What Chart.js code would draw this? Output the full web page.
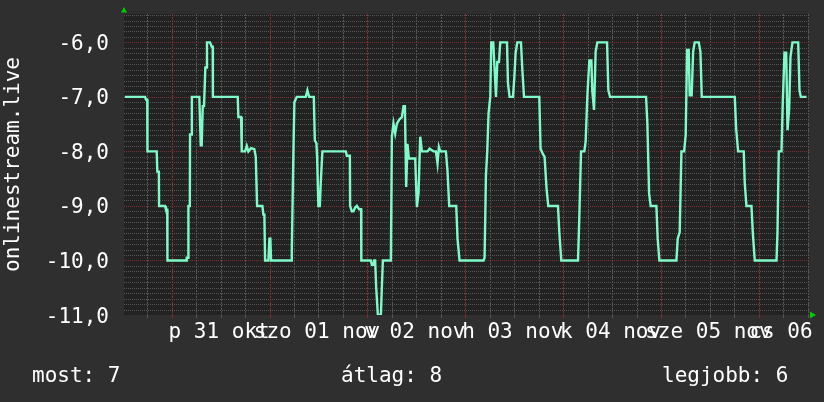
<!DOCTYPE html>
<html>
<head>
<meta charset="utf-8">
<script src="https://cdn.jsdelivr.net/npm/chart.js@4/dist/chart.umd.min.js"></script>
<style>
  html, body { margin: 0; padding: 0; background: #2f2f2f; }
  canvas { display: block; }
</style>
</head>
<body>
<canvas id="rrd" width="824" height="402"></canvas>
<script>
// hours since 31 okt 00:00
const hours = [
  -11.5, -6.55, -6.31, -6.0, -5.95, -3.68, -3.53, -3.15, -3.1, -1.64, -1.4, -1.1, -1.05,
  3.51, 3.68, 4.05, 4.1, 4.45, 4.5, 4.9, 4.95, 6.77, 7.12, 7.36, 7.61, 7.93, 8.25, 8.59, 8.65,
  9.4, 9.82, 10.06, 10.1, 16.2, 16.35, 17.01, 17.18, 17.99, 18.41, 18.8, 19.46, 20.27, 20.62,
  20.94, 22.24, 22.48, 22.73, 22.9, 23.71, 23.96, 24.2, 24.37, 29.28, 29.45, 29.85, 30.09,
  30.68, 32.89, 33.28, 33.7, 34.85, 35.1, 35.49, 35.66, 35.98, 36.33, 36.57, 36.96, 42.71,
  42.95, 43.7, 43.76, 44.18, 44.57, 44.99, 45.41, 45.97, 46.45, 46.5, 48.84, 49.09, 49.48,
  49.65, 49.9, 50.14, 50.56, 51.3, 51.54, 51.79, 53.75, 54.0, 54.39, 54.81, 55.23, 55.86,
  56.45, 56.85, 57.19, 57.51, 57.83, 58.17, 59.72, 60.13, 60.53, 60.95, 61.36, 62.74, 63.23,
  63.82, 64.21, 64.8, 65.19, 65.53, 65.86, 67.25, 67.65, 68.06, 69.78, 70.1, 70.59, 76.49,
  76.73, 77.07, 77.39, 77.71, 78.13, 78.37, 78.86, 79.18, 79.53, 79.85, 80.26, 80.58, 82.23,
  82.47, 82.86, 83.7, 84.02, 84.34, 84.75, 85.66, 85.98, 86.4, 90.15, 90.47, 91.06, 91.45,
  91.95, 92.36, 94.74, 95.06, 95.55, 99.65, 99.97, 100.39, 101.2, 101.52, 101.94, 102.43,
  102.92, 103.16, 103.58, 103.97, 104.39, 106.77, 107.09, 107.51, 116.34, 116.66, 117.08,
  117.47, 118.87, 119.19, 119.61, 123.78, 124.1, 124.59, 125.01, 125.67, 126.06, 126.4,
  126.8, 127.04, 127.53, 127.88, 128.27, 129.26, 129.67, 130.0, 138.09, 138.43, 138.92,
  140.3, 140.54, 140.96, 142.19, 142.51, 143.0, 148.33, 148.57, 148.89, 149.55, 149.87,
  150.29, 150.71, 151.03, 151.44, 151.76, 152.25, 153.65, 153.97, 154.29, 155.69
];
const values = [
  -7, -7, -7.05, -7.05, -8, -8, -8.37, -8.37, -9, -9, -9.07, -9.07, -10,
  -10, -9.95, -9.95, -9, -9, -7.69, -7.69, -7, -7, -7.89, -7.89, -7.17, -7.17, -6.46, -6.46, -6,
  -6, -6.08, -6.08, -7, -7, -7.37, -7.37, -8, -8, -7.9, -8, -7.94, -7.96, -8.1,
  -9, -9, -9.16, -9.16, -10, -10, -9.6, -9.6, -10, -10, -9.85, -8, -7.1,
  -7, -7, -6.88, -7, -7, -7.8, -7.85, -8.1, -9, -9, -8.55, -8, -8,
  -8.08, -8.08, -9, -9.1, -9.1, -9.03, -9, -9.06, -9.06, -10, -10, -10.08, -10.08,
  -10, -10, -10.48, -11, -11, -10.5, -10, -10, -7.73, -7.49, -7.67, -7.49, -7.41,
  -7.37, -7.17, -7.17, -8.65, -7.86, -8.13, -8.13, -9.02, -8.77, -7.73, -8, -8, -7.95,
  -7.98, -8, -8, -8.22, -7.92, -8, -8, -8.37, -9, -9, -9.6, -10, -10,
  -9.95, -8.44, -8, -7.3, -7, -6, -6, -6.48, -7, -6.36, -6.36, -6, -6,
  -6.75, -7, -7, -6.66, -6.2, -6, -6, -6.48, -7, -7, -7.95, -8.05, -8.1,
  -8.7, -9, -9, -9.48, -10, -10, -9.2, -8, -8, -7.82, -6.98, -6.33,
  -6.33, -6.9, -7.24, -6.17, -6, -6, -6.88, -7, -7, -7.49, -8.77,
  -9, -9, -9.6, -10, -10, -9.6, -9.48, -8, -8, -7.7, -6.14,
  -6.14, -6.97, -6.97, -6.17, -6, -6, -6.17, -7, -7, -7.58, -8,
  -8, -8.58, -9, -9, -9.48, -10, -10, -9.48, -8, -8, -7.1,
  -6.19, -6.19, -7.61, -7.21, -6.26, -6, -6, -6.88, -7, -7
];

const yTickValues = [-11, -10, -9, -8, -7, -6];
const yTickLabels = ["-11,0", "-10,0", "-9,0", "-8,0", "-7,0", "-6,0"];
const dayLabelHours = [12, 36, 60, 84, 108, 132, 156];
const dayLabels = ["p 31 okt", "szo 01 nov", "v 02 nov", "h 03 nov", "k 04 nov", "sze 05 nov", "cs 06 nov"];
const legendTexts = ["most: 7", "átlag: 8", "legjobb: 6"];
const yTitle = "onlinestream.live";

const FONT = '21px "DejaVu Sans Mono", monospace';
const MINOR = "#565656";
const MAJOR = "#7e2e2e";

const isWhole = (v, step) => Math.abs(v / step - Math.round(v / step)) < 1e-6;

// rrdtool-like dotted grid
function dottedH(ctx, a, color, rows) {
  const l = Math.round(a.left), r = Math.round(a.right);
  ctx.fillStyle = color;
  rows.forEach(py => { for (let x = l; x < r; x += 2) ctx.fillRect(x, py, 1, 1); });
}
function dottedV(ctx, a, color, cols) {
  const t = Math.round(a.top), b = Math.round(a.bottom);
  ctx.fillStyle = color;
  cols.forEach(px => { for (let y = t; y < b; y += 3) ctx.fillRect(px, y, 1, 2); });
}

const rrdDecor = {
  id: "rrdDecor",
  beforeDraw(chart) {
    const { ctx, chartArea: a } = chart;
    ctx.save();
    ctx.fillStyle = "#2f2f2f";
    ctx.fillRect(0, 0, chart.width, chart.height);
    ctx.fillStyle = "#222222";
    ctx.fillRect(a.left, a.top, a.right - a.left, a.bottom - a.top);
    ctx.restore();
  },
  beforeDatasetsDraw(chart) {
    const { ctx, chartArea: a } = chart;
    const xs = chart.scales.x, ys = chart.scales.y;
    const minorH = [], majorH = [], minorV = [], majorV = [];
    for (let i = -109; i <= -55; i++) {
      const v = i / 10;
      const py = Math.round(ys.getPixelForValue(v));
      (isWhole(v, 1) ? majorH : minorH).push(py);
    }
    for (let h = -6; h <= 156; h += 6) {
      const px = Math.round(xs.getPixelForValue(h));
      (isWhole(h, 24) ? majorV : minorV).push(px);
    }
    ctx.save();
    dottedH(ctx, a, MINOR, minorH);
    dottedV(ctx, a, "#555555", minorV);
    dottedH(ctx, a, MAJOR, majorH);
    dottedV(ctx, a, "#853131", majorV);
    // small tick marks under the time axis
    const b = Math.round(a.bottom);
    minorV.forEach(px => { ctx.fillStyle = MINOR; ctx.fillRect(px, b, 1, 3); });
    majorV.forEach(px => { ctx.fillStyle = MAJOR; ctx.fillRect(px, b, 1, 3); });
    ctx.restore();
  },
  afterDraw(chart) {
    const { ctx, chartArea: a } = chart;
    const xs = chart.scales.x, ys = chart.scales.y;
    ctx.save();
    ctx.font = FONT;
    ctx.fillStyle = "#ffffff";

    // y tick labels
    ctx.textAlign = "right";
    ctx.textBaseline = "alphabetic";
    yTickValues.forEach((v, i) => ctx.fillText(yTickLabels[i], 109, ys.getPixelForValue(v) + 7.5));

    // day labels, centred on noon (they overlap like the original)
    ctx.textAlign = "center";
    dayLabelHours.forEach((h, i) => ctx.fillText(dayLabels[i], xs.getPixelForValue(h) - 1.5, 338));

    // legend line
    ctx.textAlign = "left";
    ctx.fillText(legendTexts[0], 32, 382);
    ctx.fillText(legendTexts[1], 341, 382);
    ctx.fillText(legendTexts[2], 662, 382);

    // vertical title
    ctx.save();
    ctx.translate(18.5, (a.top + a.bottom) / 2);
    ctx.rotate(-Math.PI / 2);
    ctx.textAlign = "center";
    ctx.fillText(yTitle, 0, 0);
    ctx.restore();

    // axis arrows
    ctx.fillStyle = "#00cc00";
    ctx.beginPath();
    ctx.moveTo(a.left - 3, 12.5);
    ctx.lineTo(a.left + 3, 12.5);
    ctx.lineTo(a.left, 7);
    ctx.closePath();
    ctx.fill();
    ctx.beginPath();
    ctx.moveTo(a.right + 1, a.bottom - 3.5);
    ctx.lineTo(a.right + 1, a.bottom + 3.5);
    ctx.lineTo(a.right + 7, a.bottom);
    ctx.closePath();
    ctx.fill();
    ctx.restore();
  }
};

new Chart(document.getElementById("rrd"), {
  type: "line",
  data: {
    datasets: [{
      data: hours.map((h, i) => ({ x: h, y: values[i] })),
      borderColor: "#7ffac8",
      borderWidth: 2.4,
      pointRadius: 0,
      tension: 0,
      fill: false
    }]
  },
  options: {
    responsive: false,
    animation: false,
    devicePixelRatio: 1,
    layout: { padding: { left: 124, right: 15, top: 14, bottom: 87 } },
    plugins: { legend: { display: false }, tooltip: { enabled: false } },
    scales: {
      x: {
        type: "linear",
        min: -11.7,
        max: 156.3,
        ticks: { display: false },
        grid: { display: false, drawTicks: false },
        border: { display: false }
      },
      y: {
        type: "linear",
        min: -11,
        max: -5.48,
        ticks: { display: false },
        grid: { display: false, drawTicks: false },
        border: { display: false }
      }
    }
  },
  plugins: [rrdDecor]
});
</script>
</body>
</html>
